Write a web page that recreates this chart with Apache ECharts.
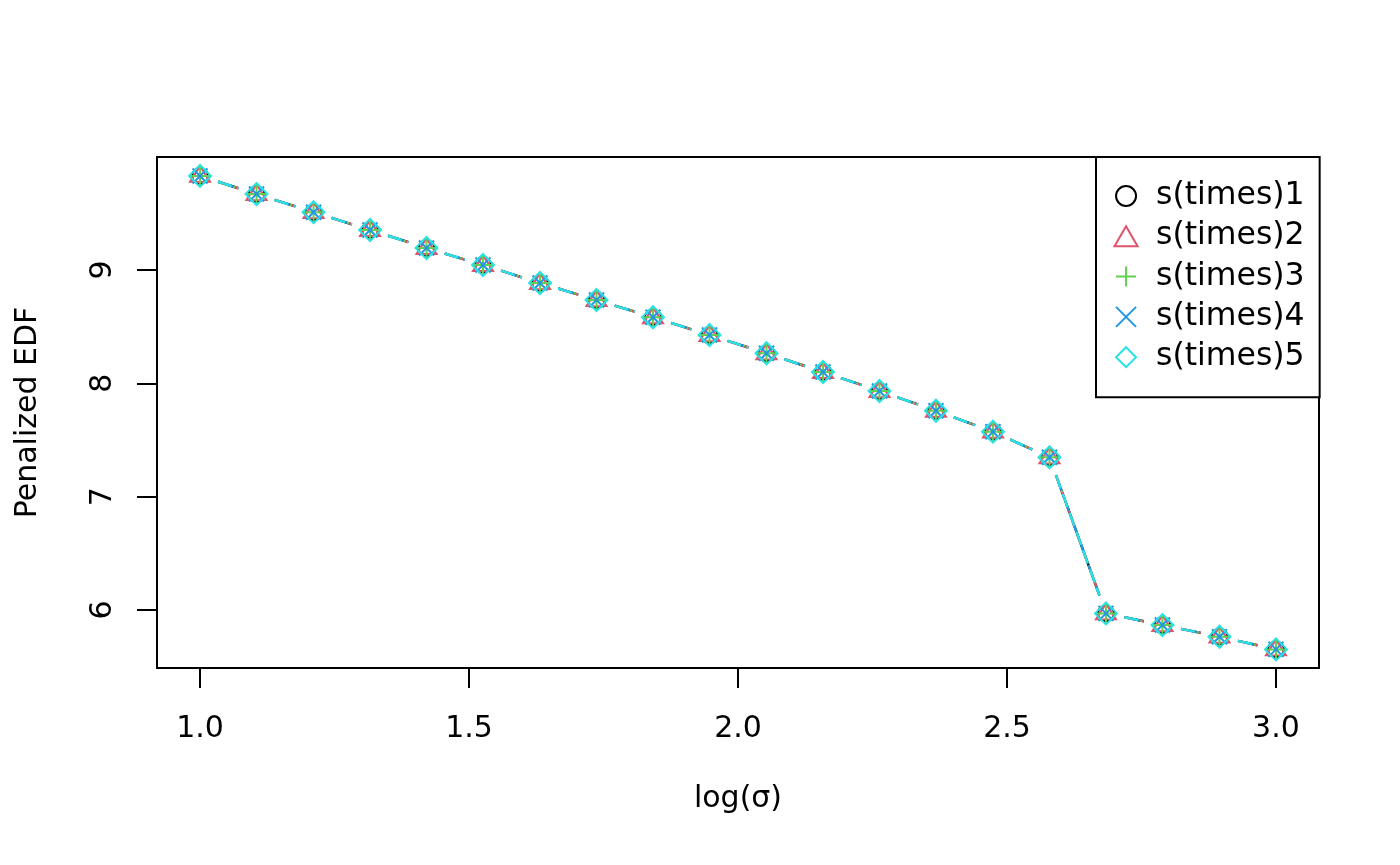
<!DOCTYPE html>
<html>
<head>
<meta charset="utf-8">
<script src="https://cdn.jsdelivr.net/npm/echarts@6/dist/echarts.min.js"></script>
<style>html,body{margin:0;padding:0;background:#fff}#c{width:1400px;height:865px}</style>
</head>
<body>
<div id="c"></div>
<script>
const logSigma = [1.000, 1.105, 1.211, 1.316, 1.421, 1.526, 1.632, 1.737, 1.842, 1.947,
                  2.053, 2.158, 2.263, 2.368, 2.474, 2.579, 2.684, 2.789, 2.895, 3.000];
const s1 = [9.83, 9.67, 9.51, 9.353, 9.194, 9.044, 8.885, 8.735, 8.583, 8.426,
            8.265, 8.10, 7.932, 7.758, 7.573, 7.347, 5.970, 5.867, 5.764, 5.652];
const s2 = [9.83, 9.67, 9.51, 9.353, 9.194, 9.044, 8.885, 8.735, 8.583, 8.426,
            8.265, 8.10, 7.932, 7.758, 7.573, 7.347, 5.970, 5.867, 5.764, 5.652];
const s3 = [9.83, 9.67, 9.51, 9.353, 9.194, 9.044, 8.885, 8.735, 8.583, 8.426,
            8.265, 8.10, 7.932, 7.758, 7.573, 7.347, 5.970, 5.867, 5.764, 5.652];
const s4 = [9.83, 9.67, 9.51, 9.353, 9.194, 9.044, 8.885, 8.735, 8.583, 8.426,
            8.265, 8.10, 7.932, 7.758, 7.573, 7.347, 5.970, 5.867, 5.764, 5.652];
const s5 = [9.83, 9.67, 9.51, 9.353, 9.194, 9.044, 8.885, 8.735, 8.583, 8.426,
            8.265, 8.10, 7.932, 7.758, 7.573, 7.347, 5.970, 5.867, 5.764, 5.652];
const seriesNames = ['s(times)1', 's(times)2', 's(times)3', 's(times)4', 's(times)5'];
const xTicks = [1.0, 1.5, 2.0, 2.5, 3.0];
const yTicks = [6, 7, 8, 9];

const allValues = [s1, s2, s3, s4, s5];
const colors = ['#000000', '#DF536B', '#61D04F', '#2297E6', '#28E2E5'];
const dashes = ['solid', [8, 8], [2, 6], [2, 6, 8, 6], [14, 6]];
const symbols = [
  'path://M10,0A10,10,0,1,1,10,20A10,10,0,1,1,10,0Z',
  'path://M10,0L20,17.32L0,17.32Z',
  'path://M0,10L20,10M10,0L10,20',
  'path://M0,0L20,20M20,0L0,20',
  'path://M10,0L20,10L10,20L0,10Z'
];
const symSizes = [[16, 16], [20, 16], [22, 22], [15, 15], [22, 22]];
const symOffsets = [[0, 0], [0, -2], [0, 0], [0, 0], [0, 0]];
const font = 'DejaVu Sans';
const fs = 30;
const GAP = 19; // R type="b" gap around each point, px

const pairs = v => logSigma.map((x, i) => [x, v[i]]);
const markerSeries = allValues.map((v, k) => ({
  name: seriesNames[k], type: 'scatter', data: pairs(v), z: 3, animation: false,
  symbol: symbols[k], symbolSize: symSizes[k], symbolOffset: symOffsets[k],
  itemStyle: { color: 'none', borderColor: colors[k], borderWidth: 2, opacity: 1 }
}));

const chart = echarts.init(document.getElementById('c'));
chart.setOption({
  animation: false,
  backgroundColor: '#ffffff',
  grid: { left: 157, top: 157, width: 1162, height: 511, show: true, borderColor: '#000', borderWidth: 2, backgroundColor: 'transparent' },
  xAxis: {
    type: 'value', min: 0.92, max: 3.08,
    name: 'log(σ)', nameLocation: 'middle', nameGap: 116,
    nameTextStyle: { fontFamily: font, fontSize: fs, color: '#000' },
    axisLine: { show: false },
    splitLine: { show: false },
    axisTick: { show: true, length: 20, customValues: xTicks, lineStyle: { color: '#000', width: 2 } },
    axisLabel: { customValues: xTicks, margin: 46, fontFamily: font, fontSize: fs, color: '#000',
      formatter: v => v.toFixed(1) }
  },
  yAxis: {
    type: 'value', min: 5.488, max: 9.997,
    name: 'Penalized EDF', nameLocation: 'middle', nameGap: 114,
    nameTextStyle: { fontFamily: font, fontSize: fs, color: '#000' },
    axisLine: { show: false },
    splitLine: { show: false },
    axisTick: { show: true, length: 20, customValues: yTicks, lineStyle: { color: '#000', width: 2 } },
    axisLabel: { customValues: yTicks, rotate: 90, margin: 39, fontFamily: font, fontSize: fs, color: '#000',
      formatter: v => String(v) }
  },
  legend: {
    data: seriesNames, orient: 'vertical', left: 1096, top: 157,
    padding: [23, 15, 24, 16], itemWidth: 50, itemHeight: 20, itemGap: 8.3,
    borderColor: '#000', borderWidth: 2, backgroundColor: '#fff',
    textStyle: { fontFamily: font, fontSize: 31.5, color: '#000' },
    selectedMode: false
  },
  series: markerSeries
});

// Line segments between consecutive points, shortened by GAP px at each end
// (R type="b"), each drawn separately so the dash pattern restarts per segment.
const segSeries = [];
allValues.forEach((v, k) => {
  for (let i = 0; i < logSigma.length - 1; i++) {
    const p0 = chart.convertToPixel({ gridIndex: 0 }, [logSigma[i], v[i]]);
    const p1 = chart.convertToPixel({ gridIndex: 0 }, [logSigma[i + 1], v[i + 1]]);
    const dx = p1[0] - p0[0], dy = p1[1] - p0[1];
    const d = Math.sqrt(dx * dx + dy * dy);
    if (d <= 2 * GAP) continue;
    const ux = dx / d, uy = dy / d;
    const a = chart.convertFromPixel({ gridIndex: 0 }, [p0[0] + ux * GAP, p0[1] + uy * GAP]);
    const b = chart.convertFromPixel({ gridIndex: 0 }, [p1[0] - ux * GAP, p1[1] - uy * GAP]);
    segSeries.push({
      type: 'line', data: [a, b], showSymbol: false, z: 2 + k * 0.01, silent: true,
      animation: false, lineStyle: { color: colors[k], width: 2.4, type: dashes[k], opacity: 1 }
    });
  }
});
chart.setOption({ series: markerSeries.concat(segSeries) });
</script>
</body>
</html>
